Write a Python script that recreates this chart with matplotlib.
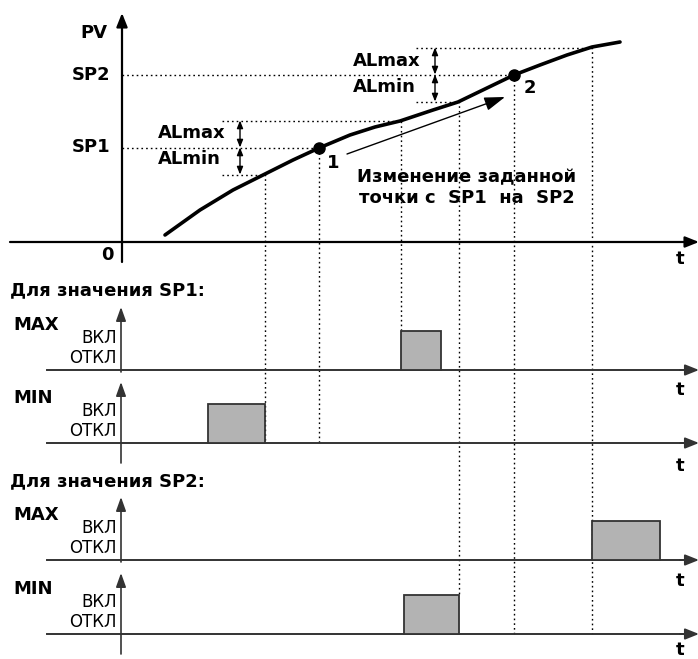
import matplotlib
matplotlib.use("Agg")
import matplotlib.pyplot as plt
from matplotlib.patches import Rectangle

plt.rcParams['font.family'] = ['DejaVu Sans']

# --- data (picture coordinates, y grows downwards) ---
curve_t = [165, 200, 233, 265, 293, 319, 350, 375, 400, 433, 458, 487, 514, 540, 567, 592, 620]
curve_pv = [235, 210, 190, 174, 160, 148, 135, 127, 121, 110, 102, 88, 75, 65, 55, 47, 42]

sp_levels = [147.5, 74.5]          # SP1, SP2
sp_labels = ["SP1", "SP2"]
al_band = 27                       # ALmax / ALmin half width
point_t = [319, 514]               # points 1 and 2
cross_min = [265, 459]             # curve crosses SP - ALmin
cross_max = [401, 592]             # curve crosses SP + ALmax
al_arrow_x = [240, 435]
al_line_start = [222, 416]
al_text_x = [158, 353]

# state panels
panel_names = ["MAX", "MIN", "MAX", "MIN"]
panel_base = [370, 443, 560, 634]
panel_on = [(401, 441), (208, 265), (592, 660), (404, 459)]
panel_t_y = [390, 466, 581, 650]
panel_headers = ["Для значения SP1:", "Для значения SP2:"]
header_y = [290, 481]

# vertical dotted guide lines: (t, top, bottom)
guide_t = [265, 319, 401, 459, 514, 592]
guide_top = [174, 148, 121, 101, 75, 47]
guide_bottom = [443, 443, 330, 596, 634, 634]

fig = plt.figure(figsize=(6.98, 6.59), dpi=100)
ax = fig.add_axes([0, 0, 1, 1])
ax.set_xlim(0, 698)
ax.set_ylim(659, 0)
ax.axis('off')

dot = (0, (1.2, 2.2))
bold = dict(fontweight='bold', fontsize=13, color='black')


def arrow(x0, y0, x1, y1, lw=1.6, color='black', style='-|>,head_length=0.55,head_width=0.22', ms=15):
    ax.annotate('', xy=(x1, y1), xytext=(x0, y0), annotation_clip=False,
                arrowprops=dict(arrowstyle=style, lw=lw, color=color,
                                mutation_scale=ms, shrinkA=0, shrinkB=0))


# main axes
arrow(10, 242, 699, 242)
arrow(122, 262, 122, 13)
ax.text(107, 33, "PV", ha='right', va='center', **bold)
ax.text(107, 255, "0", ha='center', va='center', **bold)
ax.text(680, 259, "t", ha='center', va='center', **bold)

# setpoints and alarm bands
for i in range(2):
    sp = sp_levels[i]
    ax.plot([122, point_t[i]], [sp, sp], color='black', lw=1, ls=dot)
    ax.text(110, sp, sp_labels[i], ha='right', va='center', **bold)
    ax.plot([al_line_start[i], cross_max[i]], [sp - al_band, sp - al_band], color='black', lw=1, ls=dot)
    ax.plot([al_line_start[i], cross_min[i]], [sp + al_band, sp + al_band], color='black', lw=1, ls=dot)
    dbl = '<|-|>,head_length=0.45,head_width=0.18'
    arrow(al_arrow_x[i], sp, al_arrow_x[i], sp - al_band, lw=1, style=dbl, ms=10)
    arrow(al_arrow_x[i], sp, al_arrow_x[i], sp + al_band, lw=1, style=dbl, ms=10)
    ax.text(al_text_x[i], sp - 14, "ALmax", ha='left', va='center', **bold)
    ax.text(al_text_x[i], sp + 12, "ALmin", ha='left', va='center', **bold)

# guide lines
for t, top, bot in zip(guide_t, guide_top, guide_bottom):
    ax.plot([t, t], [top, bot], color='black', lw=1, ls=dot)

# PV curve
ax.plot(curve_t, curve_pv, color='black', lw=2.6, solid_capstyle='round', solid_joinstyle='round')
ax.plot(point_t, [sp_levels[0], sp_levels[1]], 'o', color='black', ms=8)
ax.text(333, 163, "1", ha='center', va='center', **bold)
ax.text(530, 88, "2", ha='center', va='center', **bold)

# set-point change arrow
arrow(347, 154, 505, 97, lw=1, style='-|>,head_length=0.9,head_width=0.3', ms=14)
ax.text(467, 177, "Изменение заданной", ha='center', va='center', **bold)
ax.text(467, 198, "точки с  SP1  на  SP2", ha='center', va='center', **bold)

# state panels
for k in range(4):
    base = panel_base[k]
    if k % 2 == 0:
        ax.text(10, header_y[k // 2], panel_headers[k // 2], ha='left', va='center', **bold)
    ax.plot([47, 690], [base, base], color='#333333', lw=1.4)
    arrow(680, base, 699, base, lw=1.4, color='#333333')
    top = base - 63 if k % 2 == 0 else base - 61
    bottom = base + 2 if k % 2 == 0 else base + 20
    arrow(121, bottom, 121, top, lw=1.2, color='#333333',
          style='-|>,head_length=0.7,head_width=0.25', ms=12)
    ax.text(13, base - 45, panel_names[k], ha='left', va='center', **bold)
    ax.text(117, base - 32, "ВКЛ", ha='right', va='center', fontsize=12)
    ax.text(117, base - 12, "ОТКЛ", ha='right', va='center', fontsize=12)
    ax.text(680, panel_t_y[k], "t", ha='center', va='center', **bold)
    t0, t1 = panel_on[k]
    ax.add_patch(Rectangle((t0, base - 39), t1 - t0, 39, facecolor='#b3b3b3',
                           edgecolor='#333333', lw=1.3, zorder=3))

fig.savefig("out.png", dpi=100)
